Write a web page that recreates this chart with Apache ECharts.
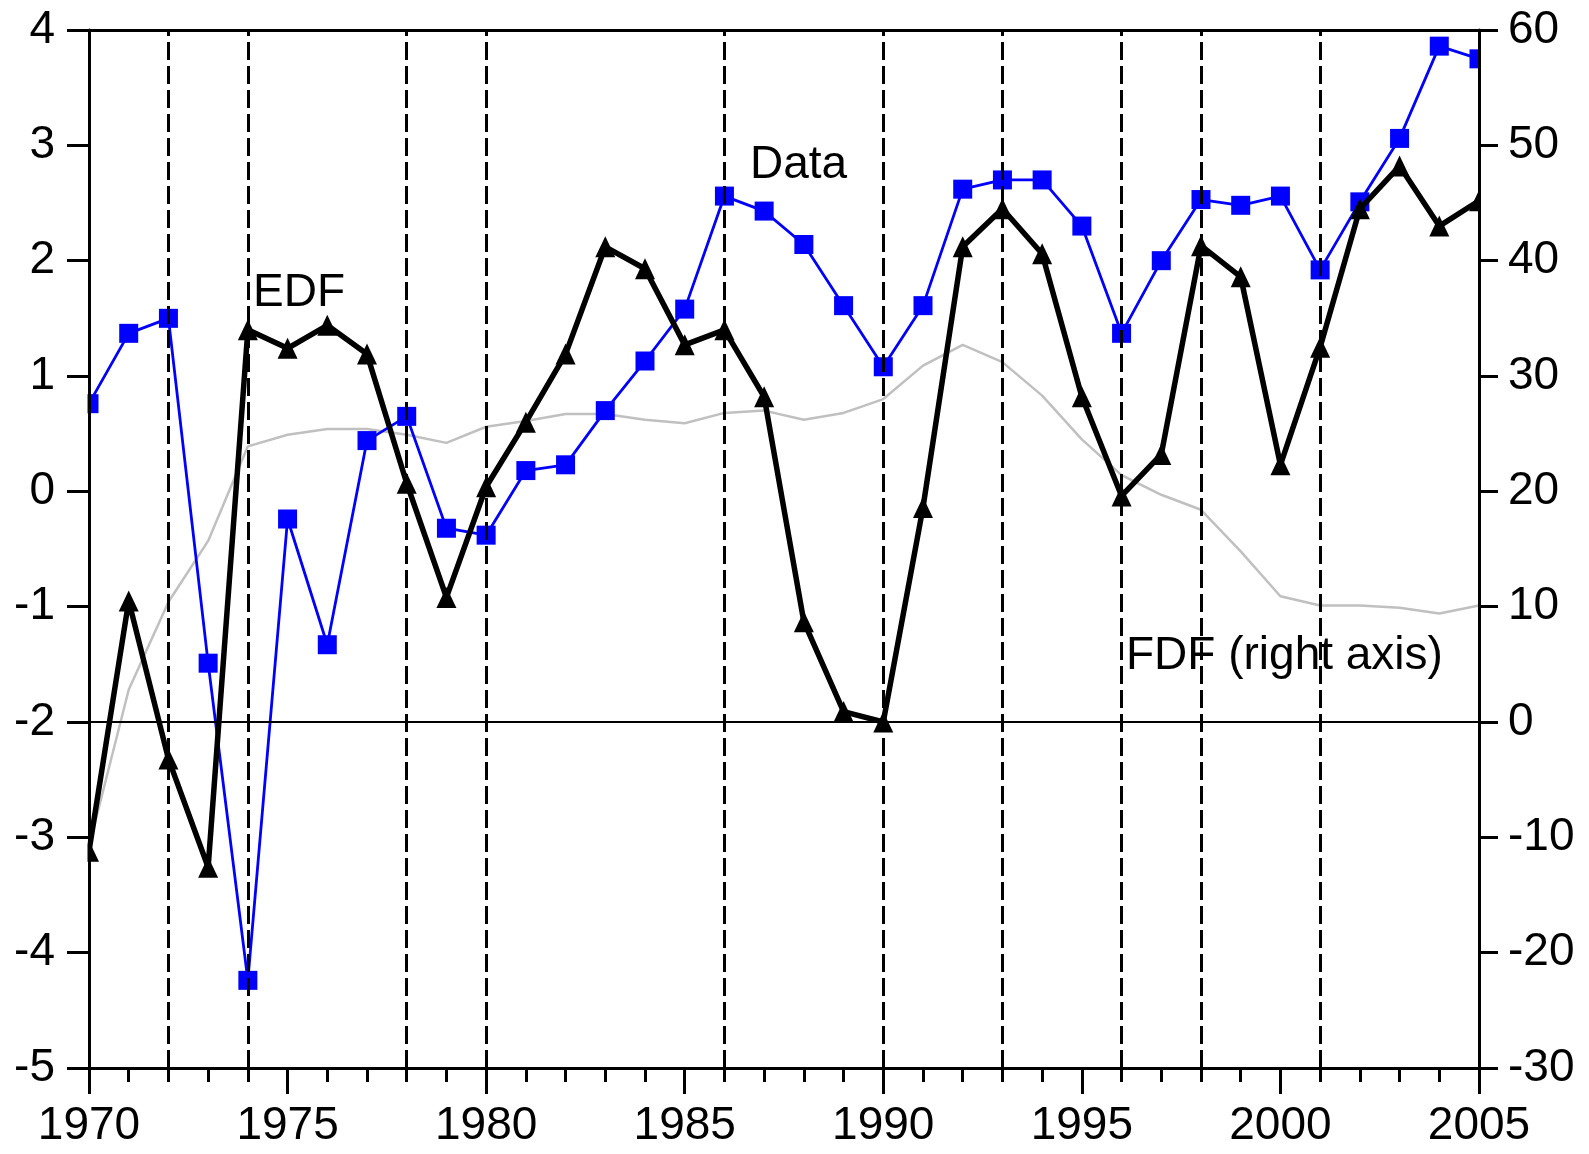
<!DOCTYPE html>
<html>
<head>
<meta charset="utf-8">
<style>
  html, body { margin: 0; padding: 0; background: #fff; }
  #chart { width: 1589px; height: 1154px; }
</style>
<script src="https://cdn.jsdelivr.net/npm/echarts@6/dist/echarts.min.js"></script>
</head>
<body>
<div id="chart"></div>
<script>
// Years on the horizontal axis
const years = [1970, 1971, 1972, 1973, 1974, 1975, 1976, 1977, 1978, 1979,
               1980, 1981, 1982, 1983, 1984, 1985, 1986, 1987, 1988, 1989,
               1990, 1991, 1992, 1993, 1994, 1995, 1996, 1997, 1998, 1999,
               2000, 2001, 2002, 2003, 2004, 2005];

// Observed data (left axis)
const dataValues = [0.76, 1.37, 1.50, -1.49, -4.24, -0.24, -1.33, 0.44, 0.65, -0.32,
                    -0.38, 0.18, 0.23, 0.70, 1.13, 1.58, 2.56, 2.43, 2.14, 1.61,
                    1.08, 1.61, 2.62, 2.70, 2.70, 2.30, 1.37, 2.00, 2.53, 2.48,
                    2.56, 1.92, 2.51, 3.06, 3.86, 3.75];

// EDF (left axis)
const edfValues = [-3.12, -0.95, -2.32, -3.26, 1.40, 1.24, 1.44, 1.19, 0.07, -0.92,
                   0.04, 0.60, 1.19, 2.12, 1.93, 1.27, 1.40, 0.82, -1.13, -1.91,
                   -2.00, -0.14, 2.12, 2.45, 2.06, 0.82, -0.04, 0.32, 2.13, 1.86,
                   0.23, 1.25, 2.45, 2.82, 2.30, 2.52];

// FDF (right axis)
const fdfValues = [-10.8, 2.8, 10.4, 15.7, 23.9, 24.9, 25.4, 25.4, 24.9, 24.2,
                   25.6, 26.1, 26.7, 26.7, 26.2, 25.9, 26.8, 27.0, 26.2, 26.8,
                   28.0, 30.9, 32.7, 31.2, 28.3, 24.5, 21.4, 19.7, 18.4, 14.8,
                   10.9, 10.1, 10.1, 9.9, 9.4, 10.1];

// Years marked with dashed vertical lines
const breakYears = [1972, 1974, 1978, 1980, 1986, 1990, 1993, 1996, 1998, 2001];

// Axis ranges and tick steps
const xRange = [1970, 2005], xStep = 5;
const leftRange = [-5, 4], leftStep = 1;
const rightRange = [-30, 60], rightStep = 10;
const zeroLineLeft = -2;   // left-axis level equal to 0 on the right axis

const FONT = 'Arial, "Liberation Sans", Helvetica, sans-serif';
const pairs = vals => years.map((y, i) => [y, vals[i]]);

const chart = echarts.init(document.getElementById('chart'), null, { renderer: 'canvas' });

const GRID = { left: 89, top: 30, right: 110, bottom: 86 };

chart.setOption({
  animation: false,
  backgroundColor: '#ffffff',
  grid: Object.assign({ containLabel: false }, GRID),
  xAxis: [{
    type: 'value', min: xRange[0], max: xRange[1], interval: xStep,
    position: 'bottom', z: 10,
    axisLine: { show: true, onZero: false, lineStyle: { color: '#000', width: 3 } },
    axisTick: { show: true, length: 26, lineStyle: { color: '#000', width: 3 } },
    minorTick: { show: true, splitNumber: 5, length: 14, lineStyle: { color: '#000', width: 3 } },
    splitLine: { show: false },
    axisLabel: { color: '#000', fontSize: 46, fontFamily: FONT, margin: 58,
                 verticalAlign: 'middle', formatter: v => String(v) }
  }, {
    type: 'value', min: xRange[0], max: xRange[1], interval: xStep,
    position: 'top', z: 10,
    axisLine: { show: true, onZero: false, lineStyle: { color: '#000', width: 3 } },
    axisTick: { show: false }, axisLabel: { show: false }, splitLine: { show: false }
  }],
  yAxis: [{
    type: 'value', min: leftRange[0], max: leftRange[1], interval: leftStep,
    position: 'left', z: 10,
    axisLine: { show: true, onZero: false, lineStyle: { color: '#000', width: 3 } },
    axisTick: { show: true, length: 22, lineStyle: { color: '#000', width: 3 } },
    splitLine: { show: false },
    axisLabel: { color: '#000', fontSize: 46, fontFamily: FONT, margin: 34 }
  }, {
    type: 'value', min: rightRange[0], max: rightRange[1], interval: rightStep,
    position: 'right', z: 10,
    axisLine: { show: true, onZero: false, lineStyle: { color: '#000', width: 3 } },
    axisTick: { show: true, length: 19, lineStyle: { color: '#000', width: 3 } },
    splitLine: { show: false },
    axisLabel: { color: '#000', fontSize: 46, fontFamily: FONT, margin: 29 }
  }],
  series: [
    {
      // reference lines: dashed year markers and the zero level
      type: 'line', name: 'refs', xAxisIndex: 0, yAxisIndex: 0, z: 1,
      data: [], silent: true,
      markLine: {
        silent: true, symbol: ['none', 'none'], label: { show: false },
        animation: false,
        data: breakYears.map(y => ({
          xAxis: y,
          lineStyle: { color: '#000', width: 3, type: [18, 6] }
        })).concat([{
          yAxis: zeroLineLeft,
          lineStyle: { color: '#000', width: 2, type: 'solid' }
        }])
      }
    },
    {
      name: 'FDF', type: 'line', xAxisIndex: 0, yAxisIndex: 1, z: 2,
      data: pairs(fdfValues), showSymbol: false, symbol: 'none',
      lineStyle: { color: '#c0c0c0', width: 2.5 }
    },
    {
      name: 'Data', type: 'line', xAxisIndex: 0, yAxisIndex: 0, z: 3,
      data: pairs(dataValues), symbol: 'rect', symbolSize: 19,
      itemStyle: { color: '#0000ff' },
      lineStyle: { color: '#0000ff', width: 2.8 }
    },
    {
      name: 'EDF', type: 'line', xAxisIndex: 0, yAxisIndex: 0, z: 4,
      data: pairs(edfValues), symbol: 'triangle', symbolSize: [20, 21],
      itemStyle: { color: '#000' },
      lineStyle: { color: '#000', width: 5.5 }
    }
  ],
  graphic: [
    // white margins so edge markers are cut at the plot frame
    { type: 'rect', z: 8, silent: true,
      shape: { x: 0, y: 0, width: GRID.left - 1.5, height: 1154 }, style: { fill: '#fff' } },
    { type: 'rect', z: 8, silent: true,
      shape: { x: 1589 - GRID.right + 1.5, y: 0, width: GRID.right, height: 1154 }, style: { fill: '#fff' } },
    // series annotations
    { type: 'text', z: 20, x: 253, y: 293,
      style: { text: 'EDF', fill: '#000', fontSize: 46, fontFamily: FONT, verticalAlign: 'middle' } },
    { type: 'text', z: 20, x: 750, y: 165,
      style: { text: 'Data', fill: '#000', fontSize: 46, fontFamily: FONT, verticalAlign: 'middle' } },
    { type: 'text', z: 20, x: 1126, y: 656,
      style: { text: 'FDF (right axis)', fill: '#000', fontSize: 46, fontFamily: FONT, verticalAlign: 'middle' } }
  ]
});
</script>
</body>
</html>
